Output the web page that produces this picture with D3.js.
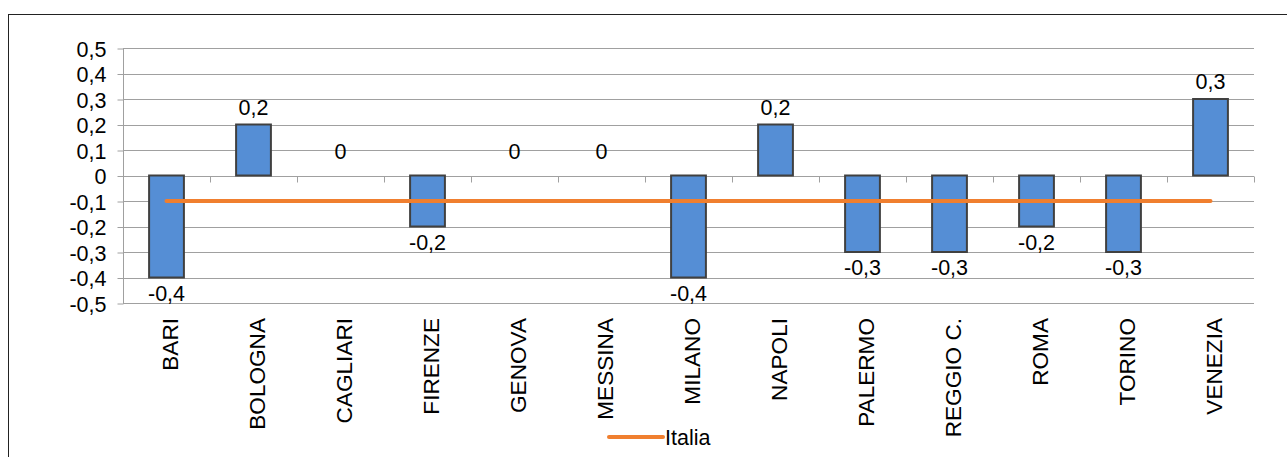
<!DOCTYPE html>
<html><head><meta charset="utf-8">
<script src="https://cdn.jsdelivr.net/npm/d3@7"></script>
<style>
body{margin:0;background:#fff;}
svg{display:block;font-family:"Liberation Sans",Arial,sans-serif;}
</style></head>
<body><svg id="c" width="1287" height="457"></svg>
<script>
const categories = ["BARI","BOLOGNA","CAGLIARI","FIRENZE","GENOVA","MESSINA","MILANO","NAPOLI","PALERMO","REGGIO C.","ROMA","TORINO","VENEZIA"];
const values = [-0.4,0.2,0,-0.2,0,0,-0.4,0.2,-0.3,-0.3,-0.2,-0.3,0.3];
const italia = [-0.1,-0.1,-0.1,-0.1,-0.1,-0.1,-0.1,-0.1,-0.1,-0.1,-0.1,-0.1,-0.1];
const yTicks = [0.5,0.4,0.3,0.2,0.1,0,-0.1,-0.2,-0.3,-0.4,-0.5];
const legendLabel = "Italia";

const svg = d3.select("#c");
const fmt = v => (Math.abs(v) < 1e-9 ? "0" : d3.format(".1f")(v).replace(".", ",").replace("−","-"));
const FS = 21.5;

// frame
svg.append("rect").attr("x",8.5).attr("y",14.5).attr("width",1300).attr("height",500)
  .attr("fill","none").attr("stroke","#222").attr("stroke-width",1);

const pLeft = 123, pRight = 1254, pTop = 48, pBottom = 303;
const x = d3.scaleBand().domain(categories).range([pLeft, pRight]).paddingInner(0.6).paddingOuter(0.3);
const xc = d3.scaleBand().domain(categories).range([pLeft, pRight]);
const y = d3.scaleLinear().domain([-0.5, 0.5]).range([pBottom, pTop]);

// gridlines
svg.append("g").selectAll("line").data(yTicks).join("line")
  .attr("x1", pLeft).attr("x2", pRight)
  .attr("y1", d => Math.round(y(d))+0.5).attr("y2", d => Math.round(y(d))+0.5)
  .attr("stroke","#a0a0a0").attr("stroke-width",1);

// y axis
const yAxis = d3.axisLeft(y).tickValues(yTicks).tickSize(6).tickFormat(fmt);
const gy = svg.append("g").attr("transform",`translate(${pLeft+0.5},0.5)`).call(yAxis);
gy.select(".domain").attr("stroke","#a0a0a0").attr("d",`M0,${Math.round(y(0.5))}V${Math.round(y(-0.5))}`);
gy.selectAll(".tick line").attr("stroke","#a0a0a0");
gy.selectAll(".tick text").attr("font-size",FS).attr("fill","#000").attr("x",-17).attr("dy","0.36em")
  .attr("font-family","Liberation Sans, Arial, sans-serif");

// x axis at zero
const xAxis = d3.axisBottom(xc).tickSize(0).tickFormat("");
const gx = svg.append("g").attr("transform",`translate(0,${Math.round(y(0))+0.5})`).call(xAxis);
gx.select(".domain").attr("stroke","#a0a0a0").attr("d",`M${pLeft},0H${pRight}`);
const bounds = categories.map(c => xc(c)).concat([pRight]).slice(1);
gx.selectAll(".bt").data(bounds).join("line").attr("class","bt")
  .attr("x1", d => Math.round(d)+0.5).attr("x2", d => Math.round(d)+0.5)
  .attr("y1",0).attr("y2",6).attr("stroke","#a0a0a0");

// bars
svg.append("g").selectAll("rect").data(values.map((v,i)=>({v,c:categories[i]})).filter(d => d.v !== 0)).join("rect")
  .attr("x", d => x(d.c))
  .attr("width", x.bandwidth())
  .attr("y", d => y(Math.max(0,d.v)))
  .attr("height", d => Math.abs(y(d.v) - y(0)))
  .attr("fill","#558ed5").attr("stroke","#404040").attr("stroke-width",2);

// Italia line
const line = d3.line().x((d,i) => xc(categories[i]) + xc.bandwidth()/2).y(d => y(d));
svg.append("path").datum(italia).attr("d", line).attr("fill","none")
  .attr("stroke","#f07f2f").attr("stroke-width",4).attr("stroke-linecap","round");

// data labels
svg.append("g").selectAll("text").data(values).join("text")
  .attr("x",(d,i) => xc(categories[i]) + xc.bandwidth()/2)
  .attr("y", d => d > 0 ? y(d) - 10 : d < 0 ? y(d) + 23 : y(0) - 17)
  .attr("text-anchor","middle").attr("font-size",FS).attr("fill","#000")
  .text(d => fmt(d));

// category labels
svg.append("g").selectAll("text").data(categories).join("text")
  .attr("transform", d => `translate(${xc(d) + xc.bandwidth()/2 + 11},318) rotate(-90)`)
  .attr("text-anchor","end").attr("font-size",22.6).attr("fill","#000")
  .text(d => d);

// legend
const lg = svg.append("g").attr("transform","translate(609,437)");
lg.append("line").attr("x1",0).attr("x2",54).attr("y1",0).attr("y2",0)
  .attr("stroke","#f07f2f").attr("stroke-width",4).attr("stroke-linecap","round");
lg.append("text").attr("x",56).attr("y",8).attr("font-size",FS).attr("fill","#000").text(legendLabel);
</script></body></html>
